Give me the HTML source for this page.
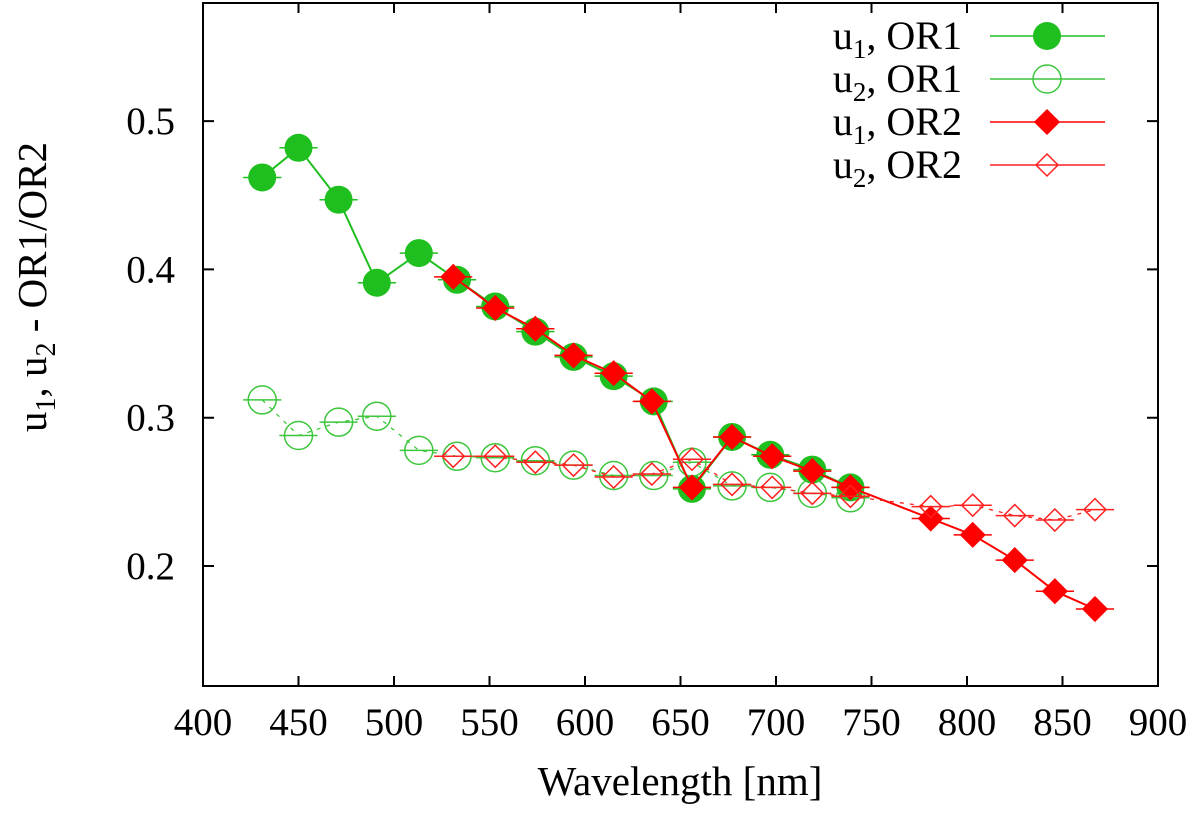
<!DOCTYPE html>
<html><head><meta charset="utf-8"><style>
body{margin:0;background:#fff}
svg text{font-family:"Liberation Serif",serif;fill:#000}
</style></head><body>
<svg id="chart" width="1200" height="821" viewBox="0 0 1200 821" xmlns="http://www.w3.org/2000/svg">
<g id="marks"></g>
<rect x="203" y="3" width="955" height="683" fill="none" stroke="#000" stroke-width="2"/>
<g id="axes"></g>
<text x="680" y="795" font-size="41" text-anchor="middle">Wavelength [nm]</text>
<text transform="translate(46,287) rotate(-90)" font-size="41" text-anchor="middle">u<tspan font-size="28" dy="9">1</tspan><tspan dy="-9">, u</tspan><tspan font-size="28" dy="9">2</tspan><tspan dy="-9"> - OR1/OR2</tspan></text>
<g id="legend"></g>
</svg>
<script>
const xTicks=[400,450,500,550,600,650,700,750,800,850,900];
const yTicks=[0.2,0.3,0.4,0.5];
const yTickLabels=["0.2","0.3","0.4","0.5"];
const lamOR1=[431,450,471,491,513,533,553,574,594,615,636,656,677,697,719,739];
const u1OR1=[0.462,0.482,0.447,0.391,0.411,0.393,0.375,0.358,0.341,0.328,0.311,0.252,0.287,0.275,0.265,0.253];
const u2OR1=[0.312,0.288,0.297,0.301,0.278,0.274,0.273,0.271,0.268,0.261,0.261,0.270,0.254,0.253,0.249,0.246];
const lamOR2=[531,553,574,594,615,635,656,677,698,719,739,781,803,825,846,867];
const u1OR2=[0.395,0.374,0.360,0.342,0.330,0.311,0.253,0.287,0.274,0.264,0.253,0.232,0.221,0.204,0.183,0.171];
const u2OR2=[0.274,0.274,0.270,0.268,0.260,0.262,0.272,0.255,0.253,0.249,0.247,0.240,0.241,0.234,0.231,0.238];
const errNm=10;
const NS="http://www.w3.org/2000/svg";
const X=v=>203+(v-400)*1.91;
const Y=v=>566-(v-0.2)*1483;
function mk(tag,attrs,parent){const e=document.createElementNS(NS,tag);for(const k in attrs)e.setAttribute(k,attrs[k]);parent.appendChild(e);return e;}
const axes=document.getElementById('axes'),marks=document.getElementById('marks'),leg=document.getElementById('legend');
xTicks.forEach(t=>{const x=X(t);
 let l=mk('path',{d:`M${x},686V676M${x},3V13`,stroke:'#000','stroke-width':2},axes);
 
 let tx=mk('text',{x:x,y:735,'font-size':39,'text-anchor':'middle'},axes);tx.textContent=t;
 });
yTicks.forEach((t,i)=>{const y=Y(t);
 let l=mk('path',{d:`M203,${y}H214M1158,${y}H1147`,stroke:'#000','stroke-width':2},axes);
 
 let tx=mk('text',{x:175,y:y+13,'font-size':39,'text-anchor':'end'},axes);tx.textContent=yTickLabels[i];
 });
function marker(type,cx,cy,col,g){
 if(type==='fc')return mk('circle',{cx,cy,r:14,fill:col},g);
 if(type==='oc')return mk('circle',{cx,cy,r:14,fill:'none',stroke:col,'stroke-width':1.5},g);
 const s=type==='fd'?12:11;
 return mk('path',{d:`M${cx},${cy-s}L${cx+s},${cy}L${cx},${cy+s}L${cx-s},${cy}Z`,fill:type==='fd'?col:'none',stroke:col,'stroke-width':1.5},g);
}
function series(name,lam,vals,col,type,dash){
 const g=mk('g',{},marks);
 const pts=lam.map((l,i)=>X(l)+','+Y(vals[i])).join(' ');
 const pl=mk('polyline',{points:pts,fill:'none',stroke:col,'stroke-width':dash?1.3:2,'stroke-dasharray':dash?'4,6':'none'},g);
 
 lam.forEach((l,i)=>{const x=X(l),y=Y(vals[i]);
  const e=mk('path',{d:`M${X(l-errNm)},${y}H${X(l+errNm)}`,stroke:col,'stroke-width':1.5},g);
  
  const m=marker(type,x,y,col,g);});
}
series('u1-or1',lamOR1,u1OR1,'#1fbf1f','fc',false);
series('u2-or1',lamOR1,u2OR1,'#3cc63c','oc',true);
series('u1-or2',lamOR2,u1OR2,'#ff0000','fd',false);
series('u2-or2',lamOR2,u2OR2,'#ff2020','od',true);
const legItems=[['1','OR1','#1fbf1f','fc'],['2','OR1','#3cc63c','oc'],['1','OR2','#ff0000','fd'],['2','OR2','#ff2020','od']];
legItems.forEach((it,i)=>{const y=36+i*43;
 const g=mk('g',{},leg);
 const t=mk('text',{x:962,y:y+13,'font-size':40,'text-anchor':'end'},g);
 t.innerHTML=`u<tspan font-size="27" dy="9">${it[0]}</tspan><tspan dy="-9">, ${it[1]}</tspan>`;
 mk('path',{d:`M990,${y}H1105`,stroke:it[2],'stroke-width':1.5},g);
 marker(it[3],1047,y,it[2],g);});
</script>
</body></html>
